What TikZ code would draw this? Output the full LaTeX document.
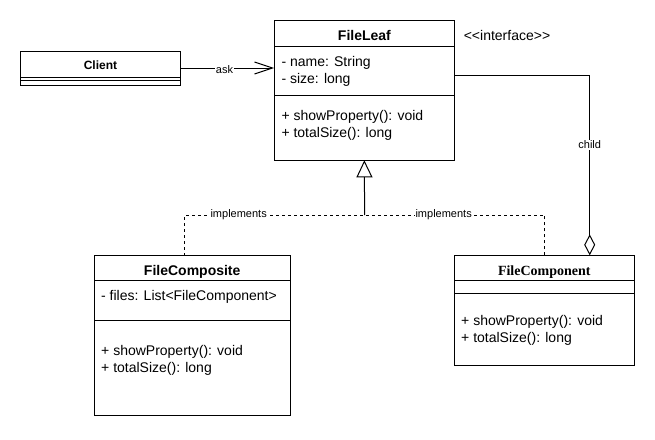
\documentclass[tikz,border=0pt]{standalone}
\usepackage{fontspec}
\setmainfont{Liberation Sans}
\newfontfamily\serifbold{Liberation Serif}
\usetikzlibrary{arrows.meta}
\begin{document}
\begin{tikzpicture}[x=1pt,y=-1pt,line width=1pt,
  box/.style={draw,anchor=north west,inner sep=0pt,outer sep=0pt},
  txt/.style={anchor=base west,inner sep=0pt,font=\fontsize{14}{17}\selectfont},
  ttl/.style={anchor=base,inner sep=0pt,font=\fontsize{14}{17}\selectfont\bfseries},
  lbl/.style={fill=white,inner sep=1pt,font=\fontsize{11}{13}\selectfont},
  impl/.style={dash pattern=on 3pt off 3pt}]
\useasboundingbox (0,0) rectangle (655,439);
% boxes
\node[box,minimum width=160pt,minimum height=34pt] (client) at (20.5,51) {};
\node[box,minimum width=180.7pt,minimum height=140pt] (fileleaf) at (274,20.3) {};
\node[box,minimum width=195.5pt,minimum height=160pt] (filecomposite) at (94.5,255.5) {};
\node[box,minimum width=180pt,minimum height=109.7pt] (filecomponent) at (454.3,255.3) {};
% compartment lines
\draw (20.5,77.3) -- (180.5,77.3);
\draw (20.5,80.3) -- (180.5,80.3);
\draw (274,46.3) -- (454.7,46.3);
\draw (274,95) -- (454.7,95);
\draw (94.5,280.7) -- (290,280.7);
\draw (94.5,320.3) -- (290,320.3);
\draw (454.3,280.7) -- (634.3,280.7);
\draw (454.3,293.3) -- (634.3,293.3);
% titles
\node[ttl,font=\fontsize{12}{14}\selectfont\bfseries] (tclient) at (100.5,69) {Client};
\node[ttl] (tleaf) at (364.4,40.8) {FileLeaf};
\node[ttl] (tcomposite) at (192.2,275.5) {FileComposite};
\node[ttl,font=\fontsize{14}{17}\serifbold\bfseries] (tcomponent) at (544.3,275.3) {FileComponent};
\node[txt] (iface) at (463.3,40.5) {\textless\kern0pt\textless\kern0pt interface\textgreater\kern0pt\textgreater};
% FileLeaf members
\node[txt] (a1) at (281,66) {- name: String};
\node[txt] (a2) at (281,83) {- size: long};
\node[txt] (m1) at (281,120) {+ showProperty(): void};
\node[txt] (m2) at (281,137) {+ totalSize(): long};
% FileComposite members
\node[txt] (ca1) at (100.7,300.5) {- files: List\textless FileComponent\textgreater};
\node[txt] (cm1) at (100.7,355) {+ showProperty(): void};
\node[txt] (cm2) at (100.7,372) {+ totalSize(): long};
% FileComponent members
\node[txt] (pm1) at (460.7,325) {+ showProperty(): void};
\node[txt] (pm2) at (460.7,342) {+ totalSize(): long};
% connectors
\draw[-{Straight Barb[length=18pt,width=12pt,line width=1pt]}] (client.east) -- node[lbl,pos=0.47,yshift=-1.5pt] (lask) {ask} (fileleaf.west |- client.east);
\coordinate (cturn) at (589.7,75.3);
\draw[-{Diamond[open,length=21pt,width=11pt,line width=1pt]}] (fileleaf.east |- cturn) -- (cturn) -- node[lbl,pos=0.385] (lchild) {child} (cturn |- filecomponent.north);
\coordinate (jn) at (364.6,215);
\coordinate (jl) at (184.7,215);
\draw[impl] (filecomposite.north -| jl) -- (jl) -- node[lbl,pos=0.3] (limp1) {implements} (jn);
\draw[impl] (filecomponent.north) -- (filecomponent.north |- jn) -- node[lbl,pos=0.56] (limp2) {implements} (jn);
\draw[-{Triangle[open,length=17pt,width=16pt,line width=1pt]}] (jn) -- (fileleaf.south);
\end{tikzpicture}
\end{document}
